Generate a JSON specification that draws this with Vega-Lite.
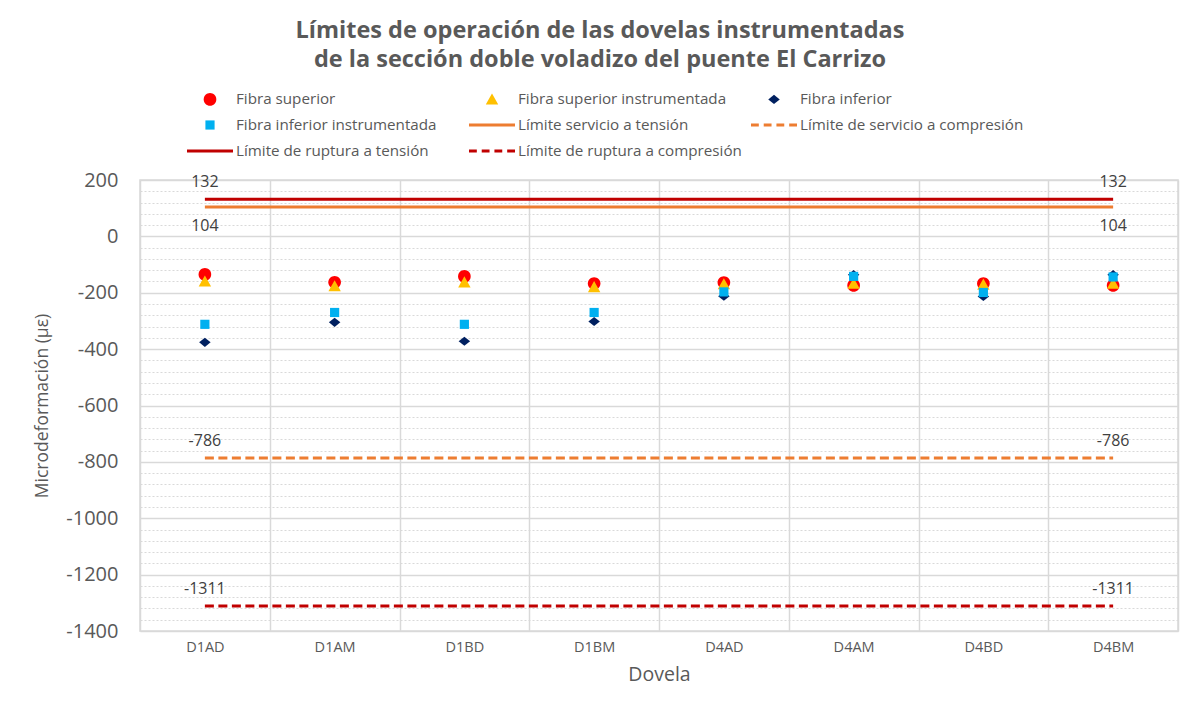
{
  "$schema": "https://vega.github.io/schema/vega-lite/v6.json",
  "width": 1038,
  "height": 451,
  "autosize": {"type": "none"},
  "padding": {"left": 140, "top": 180, "right": 21, "bottom": 75},
  "background": "white",
  "title": {
    "text": ["Límites de operación de las dovelas instrumentadas", "de la sección doble voladizo del puente El Carrizo"],
    "font": "Open Sans", "fontSize": 23.5, "fontWeight": "bold", "color": "#595959",
    "anchor": "middle", "dx": -59, "lineHeight": 28.5, "offset": 11
  },
  "datasets": {
    "puntos": [
      {"dovela": "D1AD", "serie": "Fibra superior", "valor": -135},
      {"dovela": "D1AM", "serie": "Fibra superior", "valor": -163},
      {"dovela": "D1BD", "serie": "Fibra superior", "valor": -142},
      {"dovela": "D1BM", "serie": "Fibra superior", "valor": -167},
      {"dovela": "D4AD", "serie": "Fibra superior", "valor": -164},
      {"dovela": "D4AM", "serie": "Fibra superior", "valor": -174},
      {"dovela": "D4BD", "serie": "Fibra superior", "valor": -167},
      {"dovela": "D4BM", "serie": "Fibra superior", "valor": -174},
      {"dovela": "D1AD", "serie": "Fibra superior instrumentada", "valor": -160},
      {"dovela": "D1AM", "serie": "Fibra superior instrumentada", "valor": -177},
      {"dovela": "D1BD", "serie": "Fibra superior instrumentada", "valor": -163},
      {"dovela": "D1BM", "serie": "Fibra superior instrumentada", "valor": -180},
      {"dovela": "D4AD", "serie": "Fibra superior instrumentada", "valor": -170},
      {"dovela": "D4AM", "serie": "Fibra superior instrumentada", "valor": -168},
      {"dovela": "D4BD", "serie": "Fibra superior instrumentada", "valor": -171},
      {"dovela": "D4BM", "serie": "Fibra superior instrumentada", "valor": -168},
      {"dovela": "D1AD", "serie": "Fibra inferior", "valor": -376},
      {"dovela": "D1AM", "serie": "Fibra inferior", "valor": -305},
      {"dovela": "D1BD", "serie": "Fibra inferior", "valor": -372},
      {"dovela": "D1BM", "serie": "Fibra inferior", "valor": -302},
      {"dovela": "D4AD", "serie": "Fibra inferior", "valor": -212},
      {"dovela": "D4AM", "serie": "Fibra inferior", "valor": -136},
      {"dovela": "D4BD", "serie": "Fibra inferior", "valor": -213},
      {"dovela": "D4BM", "serie": "Fibra inferior", "valor": -136},
      {"dovela": "D1AD", "serie": "Fibra inferior instrumentada", "valor": -312},
      {"dovela": "D1AM", "serie": "Fibra inferior instrumentada", "valor": -270},
      {"dovela": "D1BD", "serie": "Fibra inferior instrumentada", "valor": -312},
      {"dovela": "D1BM", "serie": "Fibra inferior instrumentada", "valor": -270},
      {"dovela": "D4AD", "serie": "Fibra inferior instrumentada", "valor": -197},
      {"dovela": "D4AM", "serie": "Fibra inferior instrumentada", "valor": -142},
      {"dovela": "D4BD", "serie": "Fibra inferior instrumentada", "valor": -199},
      {"dovela": "D4BM", "serie": "Fibra inferior instrumentada", "valor": -144}
    ],
    "limites": [
      {"dovela": "D1AD", "serie": "Límite servicio a tensión", "valor": 104},
      {"dovela": "D4BM", "serie": "Límite servicio a tensión", "valor": 104},
      {"dovela": "D1AD", "serie": "Límite de servicio a compresión", "valor": -786},
      {"dovela": "D4BM", "serie": "Límite de servicio a compresión", "valor": -786},
      {"dovela": "D1AD", "serie": "Límite de ruptura a tensión", "valor": 132},
      {"dovela": "D4BM", "serie": "Límite de ruptura a tensión", "valor": 132},
      {"dovela": "D1AD", "serie": "Límite de ruptura a compresión", "valor": -1311},
      {"dovela": "D4BM", "serie": "Límite de ruptura a compresión", "valor": -1311}
    ]
  },
  "encoding": {
    "x": {
      "field": "dovela", "type": "nominal",
      "scale": {"type": "band", "domain": ["D1AD", "D1AM", "D1BD", "D1BM", "D4AD", "D4AM", "D4BD", "D4BM"], "paddingInner": 0, "paddingOuter": 0},
      "axis": {
        "grid": true, "tickBand": "extent", "gridColor": "#D9D9D9", "gridWidth": 1.5,
        "ticks": false, "domain": false, "labelAngle": 0,
        "labelFont": "Open Sans", "labelFontSize": 14.5, "labelColor": "#595959", "labelPadding": 9,
        "title": "Dovela", "titleFont": "Open Sans", "titleFontSize": 19.5, "titleFontWeight": "normal", "titleColor": "#595959", "titlePadding": 12
      }
    },
    "y": {
      "field": "valor", "type": "quantitative",
      "scale": {"domain": [-1400, 200], "nice": false, "zero": false},
      "axis": {
        "values": [-1400,-1360,-1320,-1280,-1240,-1200,-1160,-1120,-1080,-1040,-1000,-960,-920,-880,-840,-800,-760,-720,-680,-640,-600,-560,-520,-480,-440,-400,-360,-320,-280,-240,-200,-160,-120,-80,-40,0,40,80,120,160,200],
        "grid": true, "gridColor": "#D9D9D9",
        "gridWidth": {"condition": {"test": "datum.value % 200 === 0", "value": 1.5}, "value": 1},
        "gridDash": {"condition": {"test": "datum.value % 200 === 0", "value": []}, "value": [2, 2]},
        "ticks": false, "domain": false, "labelOverlap": false,
        "labelExpr": "datum.value % 200 === 0 ? '' + datum.value : ''",
        "labelFont": "Open Sans", "labelFontSize": 20, "labelColor": "#595959", "labelPadding": 22,
        "title": "Microdeformación (µε)", "titleFont": "Open Sans", "titleFontSize": 17.5, "titleFontWeight": "normal", "titleColor": "#595959", "titlePadding": 14
      }
    }
  },
  "layer": [
    {
      "data": {"values": [{}]},
      "mark": {"type": "rule", "color": "black", "strokeDash": [2, 2], "strokeWidth": 1.5},
      "encoding": {"y": {"datum": 0}, "x": null}
    },
    {
      "data": {"name": "limites"},
      "mark": {"type": "line", "strokeWidth": 3},
      "encoding": {
        "stroke": {"field": "serie", "type": "nominal", "legend": null,
          "scale": {"domain": ["Límite servicio a tensión", "Límite de servicio a compresión", "Límite de ruptura a tensión", "Límite de ruptura a compresión"],
                    "range": ["#ED7D31", "#ED7D31", "#C00000", "#C00000"]}},
        "strokeDash": {"field": "serie", "type": "nominal", "legend": null,
          "scale": {"domain": ["Límite servicio a tensión", "Límite de servicio a compresión", "Límite de ruptura a tensión", "Límite de ruptura a compresión"],
                    "range": [[1, 0], [9, 4.5], [1, 0], [9, 4.5]]}}
      }
    },
    {
      "data": {"name": "puntos"},
      "mark": {"type": "point", "filled": true, "opacity": 1, "strokeWidth": 0, "size": 1156},
      "encoding": {
        "color": {
          "field": "serie", "type": "nominal",
          "scale": {
            "domain": ["Fibra superior", "Fibra superior instrumentada", "Fibra inferior", "Fibra inferior instrumentada", "Límite servicio a tensión", "Límite de servicio a compresión", "Límite de ruptura a tensión", "Límite de ruptura a compresión"],
            "range": ["#FF0000", "#FFC000", "#002060", "#00B0F0", "#ED7D31", "#ED7D31", "#C00000", "#C00000"]
          },
          "legend": {
            "orient": "none", "direction": "horizontal", "legendX": 53, "legendY": -98, "columns": 3, "gridAlign": "all",
            "columnPadding": 8, "rowPadding": 0, "title": null, "symbolSize": 1156, "padding": 0,
            "labelFont": "Open Sans", "labelFontSize": 15.2, "labelColor": "#595959", "labelOffset": 9,
            "symbolStrokeWidth": 0, "labelLimit": 400
          }
        },
        "shape": {
          "field": "serie", "type": "nominal",
          "scale": {
            "domain": ["Fibra superior", "Fibra superior instrumentada", "Fibra inferior", "Fibra inferior instrumentada", "Límite servicio a tensión", "Límite de servicio a compresión", "Límite de ruptura a tensión", "Límite de ruptura a compresión"],
            "range": [
              "M0.371,0A0.371,0.371,0,1,1,-0.371,0A0.371,0.371,0,1,1,0.371,0Z",
              "M0,-0.353L0.365,0.298L-0.365,0.298Z",
              "M0,-0.27L0.338,0L0,0.27L-0.338,0Z",
              "M-0.27,-0.27H0.27V0.27H-0.27Z",
              "M-1.353,-0.088H1.353V0.088H-1.353Z",
              "M-1.353,-0.088H-0.893V0.088H-1.353Z M-0.605,-0.088H-0.145V0.088H-0.605Z M0.143,-0.088H0.603V0.088H0.143Z M0.893,-0.088H1.353V0.088H0.893Z",
              "M-1.353,-0.088H1.353V0.088H-1.353Z",
              "M-1.353,-0.088H-0.893V0.088H-1.353Z M-0.605,-0.088H-0.145V0.088H-0.605Z M0.143,-0.088H0.603V0.088H0.143Z M0.893,-0.088H1.353V0.088H0.893Z"
            ]
          },
          "legend": {
            "orient": "none", "direction": "horizontal", "legendX": 53, "legendY": -98, "columns": 3, "gridAlign": "all",
            "columnPadding": 8, "rowPadding": 0, "title": null, "symbolSize": 1156, "padding": 0,
            "labelFont": "Open Sans", "labelFontSize": 15.2, "labelColor": "#595959", "labelOffset": 9,
            "symbolStrokeWidth": 0, "labelLimit": 400
          }
        }
      }
    },
    {
      "data": {"name": "limites"},
      "transform": [{"filter": "datum.valor !== 104"}],
      "mark": {"type": "text", "font": "Open Sans", "fontSize": 16, "color": "#404040", "dy": -17},
      "encoding": {"text": {"field": "valor", "type": "nominal"}}
    },
    {
      "data": {"name": "limites"},
      "transform": [{"filter": "datum.valor === 104"}],
      "mark": {"type": "text", "font": "Open Sans", "fontSize": 16, "color": "#404040", "dy": 19},
      "encoding": {"text": {"field": "valor", "type": "nominal"}}
    }
  ],
  "config": {
    "view": {"stroke": "#D9D9D9", "strokeWidth": 1.5}
  }
}
